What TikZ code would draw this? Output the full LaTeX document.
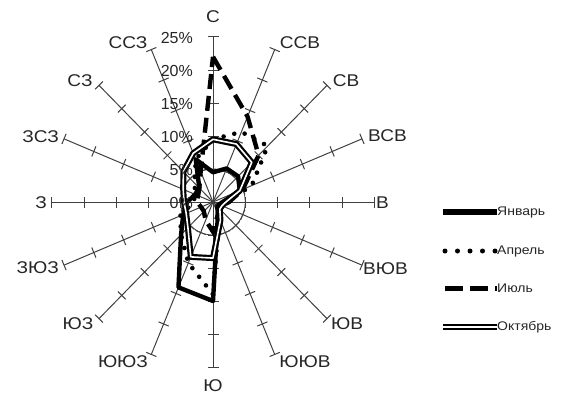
\documentclass[tikz,border=0pt]{standalone}
\usepackage{fontspec}
\setmainfont{Liberation Sans}
\newfontfamily\widefont{Liberation Sans}[FakeStretch=1.12]
\usetikzlibrary{calc}
\definecolor{axgray}{HTML}{404040}
\definecolor{txt}{HTML}{262626}
\begin{document}
\begin{tikzpicture}[x=1pt,y=-1pt,
  axisline/.style={draw=axgray,line width=1pt},
  dirlabel/.style={text=txt,inner sep=0pt,font=\widefont\fontsize{17}{19}\selectfont},
  pctlabel/.style={text=txt,inner sep=0pt,anchor=east,font=\fontsize{16}{18}\selectfont},
  leglabel/.style={text=txt,inner sep=0pt,anchor=west,font=\widefont\fontsize{12.5}{14}\selectfont},
  jan/.style={draw=black,line width=4.4pt,line join=round},
  apr/.style={draw=black,line width=4.6pt,line cap=round,dash pattern=on 0pt off 11pt},
  jul/.style={draw=black,line width=4.4pt,dash pattern=on 15pt off 7pt},
  oct/.style={draw=black,double=white,line width=2.2pt,double distance=1.6pt,line join=round}]
\useasboundingbox (0,0) rectangle (572,396);

\begin{scope}[shift={(213pt,-202pt)},x=6.45pt,y=6.6pt]
  % axes with ticks
  \foreach \i in {0,...,15}{
    \pgfmathsetmacro\ang{90-22.5*\i}
    \draw[axisline] (0,0) -- (\ang:25);
    \foreach \r in {5,10,15,20,25}{
      \draw[axisline] ($(\ang:\r)+(\ang+90:5.5pt)$) -- ($(\ang:\r)+(\ang-90:5.5pt)$);
    }
  }
  \draw[axisline,line width=0.8pt] (0,0) circle [x radius=5, y radius=5];
  % January
  \draw[jan] (90:4.5) -- (67.5:5.5) -- (45:5.5) -- (22.5:4.5) -- (0:1.5) -- (-22.5:1) -- (-45:1) -- (-67.5:2)
    -- (-90:15) -- (-112.5:14) -- (-135:7) -- (-157.5:5) -- (180:4) -- (157.5:3) -- (135:3) -- (112.5:7) -- cycle;
  % April
  \draw[apr] (90:9.5) -- (67.5:11.5) -- (45:12) -- (22.5:6.5) -- (0:2) -- (-22.5:1) -- (-45:1) -- (-67.5:2.5)
    -- (-90:14) -- (-112.5:10) -- (-135:7) -- (-157.5:5.5) -- (180:3) -- (157.5:3) -- (135:4) -- (112.5:7) -- cycle;
  % July
  \draw[jul] (90:22) -- (67.5:14) -- (45:10) -- (22.5:5) -- (0:2.5) -- (-22.5:1.5) -- (-45:1) -- (-67.5:2)
    -- (-90:4.5) -- (-112.5:3) -- (-135:2) -- (-157.5:2) -- (180:2.5) -- (157.5:2.5) -- (135:3) -- (112.5:5) -- cycle;
  % October
  \draw[oct] (90:9.5) -- (67.5:9.5) -- (45:8.5) -- (22.5:4.5) -- (0:2) -- (-22.5:1.5) -- (-45:1.5) -- (-67.5:3)
    -- (-90:8.5) -- (-112.5:9) -- (-135:5.5) -- (-157.5:4.5) -- (180:4.5) -- (157.5:5) -- (135:6.5) -- (112.5:8) -- cycle;
\end{scope}

% percent labels
\node[pctlabel] (p0) at (193,203) {0\%};
\node[pctlabel] (p5) at (193,170) {5\%};
\node[pctlabel] (p10) at (193,137) {10\%};
\node[pctlabel] (p15) at (193,104) {15\%};
\node[pctlabel] (p20) at (193,71) {20\%};
\node[pctlabel] (p25) at (193,38) {25\%};

% direction labels
\node[dirlabel] (dN) at (213,17) {С};
\node[dirlabel] (dNNE) at (300,43) {ССВ};
\node[dirlabel] (dNE) at (346,81) {СВ};
\node[dirlabel,anchor=west] (dENE) at (368,136) {ВСВ};
\node[dirlabel,anchor=west] (dE) at (376,203) {В};
\node[dirlabel,anchor=west] (dESE) at (363,269) {ВЮВ};
\node[dirlabel] (dSE) at (347,324) {ЮВ};
\node[dirlabel] (dSSE) at (305,362) {ЮЮВ};
\node[dirlabel] (dS) at (213,386) {Ю};
\node[dirlabel] (dSSW) at (123,362) {ЮЮЗ};
\node[dirlabel] (dSW) at (78,324) {ЮЗ};
\node[dirlabel,anchor=east] (dWSW) at (59,268) {ЗЮЗ};
\node[dirlabel,anchor=east] (dW) at (47,203) {З};
\node[dirlabel,anchor=east] (dWNW) at (59,137) {ЗСЗ};
\node[dirlabel] (dNW) at (80,81) {СЗ};
\node[dirlabel] (dNNW) at (128,43) {ССЗ};

% legend
\coordinate (l1a) at (443,212); \coordinate (l1b) at (497,212);
\coordinate (l2a) at (445,251); \coordinate (l2b) at (497,251);
\coordinate (l3a) at (445,288); \coordinate (l3b) at (497,288);
\coordinate (l4a) at (443,327); \coordinate (l4b) at (497,327);
\draw[jan,line width=5.2pt] (l1a) -- (l1b);
\draw[apr,line width=5pt,dash pattern=on 0pt off 12.5pt] (l2a) -- (l2b);
\draw[jul,line width=5pt,dash pattern=on 18pt off 7pt] (l3a) -- (l3b);
\draw[oct] (l4a) -- (l4b);
\node[leglabel] (t1) at (l1b) {Январь};
\node[leglabel] (t2) at (l2b) {Апрель};
\node[leglabel] (t3) at (l3b) {Июль};
\node[leglabel] (t4) at (l4b) {Октябрь};
\end{tikzpicture}
\end{document}
